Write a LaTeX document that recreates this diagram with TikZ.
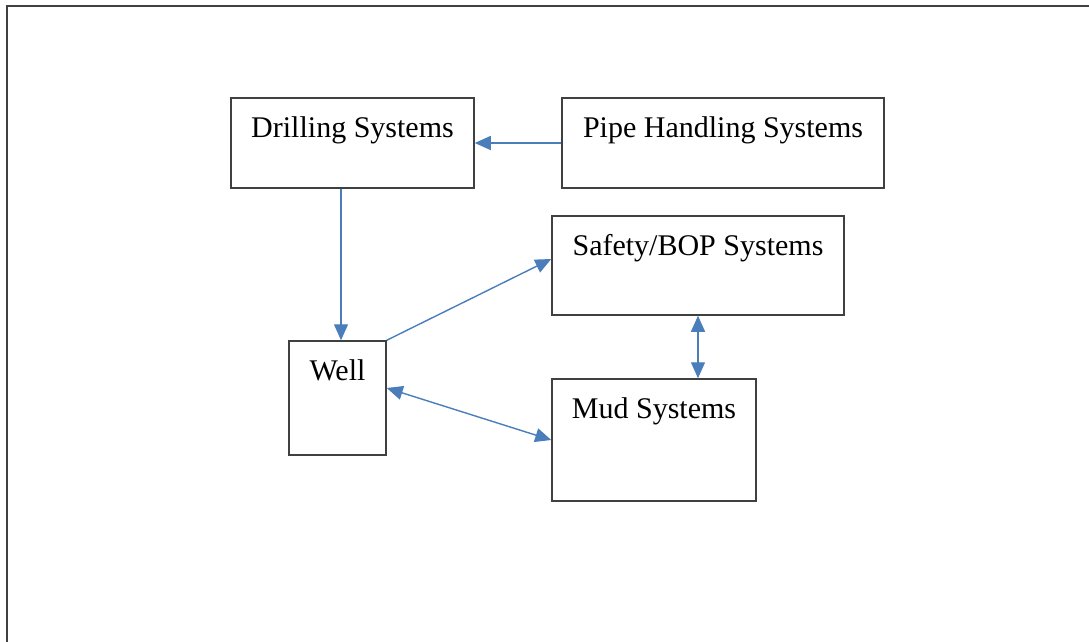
\documentclass[tikz,border=0pt]{standalone}
\usepackage{fontspec}
\setmainfont{Liberation Serif}
\usetikzlibrary{arrows.meta,calc}
\definecolor{arrowblue}{HTML}{4A7EBB}
\definecolor{boxgray}{HTML}{404040}
\tikzset{
  sysbox/.style={draw=boxgray, line width=1.5pt, rectangle, inner sep=0pt},
  lbl/.style={anchor=base, inner sep=0pt, font=\fontsize{30}{35}\selectfont},
  conn/.style={draw=arrowblue, line width=1.4pt, -{Triangle[length=16pt,width=14pt]}},
  biconn/.style={draw=arrowblue, line width=1.4pt, {Triangle[length=16pt,width=14pt]}-{Triangle[length=16pt,width=14pt]}}
}
\begin{document}
\begin{tikzpicture}[x=1pt,y=-1pt]
\useasboundingbox (0,0) rectangle (1089,642);
\draw[boxgray, line width=2.5pt] (7,642) -- (7,6) -- (1089,6);
\node[sysbox, minimum width=243pt, minimum height=90pt] (drill) at (352.5,143) {};
\node[sysbox, minimum width=322pt, minimum height=90pt] (pipe) at (723,143) {};
\node[sysbox, minimum width=292pt, minimum height=99pt] (safe) at (698,265.5) {};
\node[sysbox, minimum width=204pt, minimum height=122pt] (mud) at (654,440) {};
\node[sysbox, minimum width=97pt, minimum height=114pt] (well) at (337.5,398) {};
\node[lbl] (tdrill) at ($(drill.north)+(0,40)$) {Drilling Systems};
\node[lbl] (tpipe) at ($(pipe.north)+(0,40)$) {Pipe Handling Systems};
\node[lbl] (tsafe) at ($(safe.north)+(0,40)$) {Safety/BOP Systems};
\node[lbl] (tmud) at ($(mud.north)+(0,40)$) {Mud Systems};
\node[lbl] (twell) at ($(well.north)+(0,40)$) {Well};
\draw[conn] (pipe.west) -- (drill.east);
\coordinate (dw) at ($(drill.south)+(-11.5,0)$);
\draw[conn] (dw) -- (dw |- well.north);
\draw[conn] (well.north east) -- ($(safe.west)+(0,-6.5)$);
\draw[biconn] ($(well.east)+(0,-10)$) -- (mud.west);
\draw[biconn] (safe.south) -- (safe.south |- mud.north);
\end{tikzpicture}
\end{document}
